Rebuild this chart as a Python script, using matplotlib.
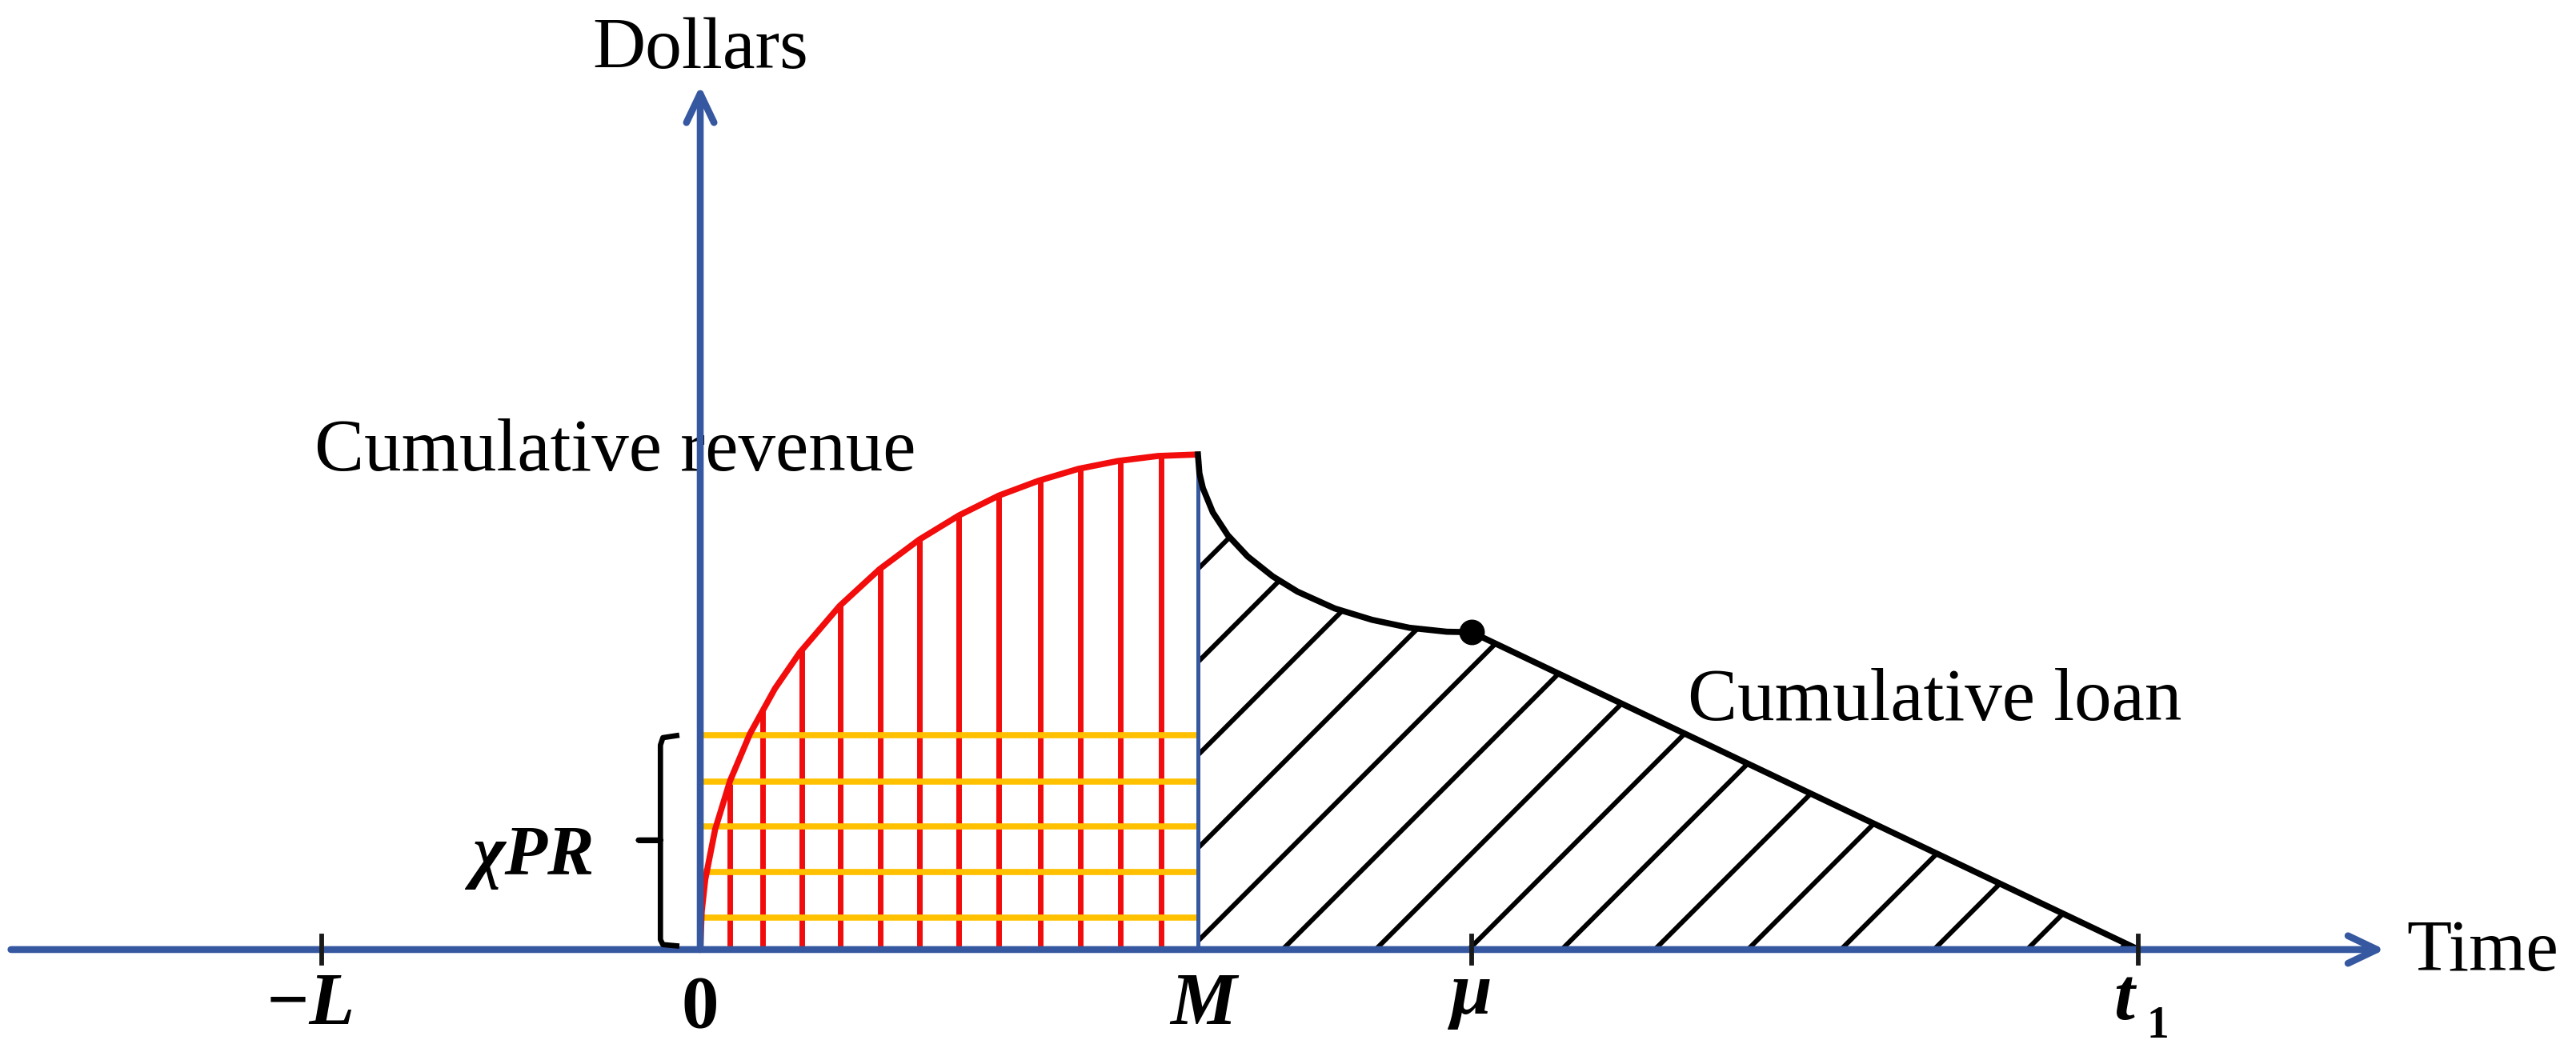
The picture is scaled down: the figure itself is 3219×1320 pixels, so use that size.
import matplotlib
matplotlib.use('Agg')
import matplotlib.pyplot as plt
from matplotlib.patches import Polygon
from matplotlib.collections import LineCollection
import numpy as np

# key points on the time axis
L_pos = -7.6
M_pos = 10.0
mu_pos = 15.5
t1_pos = 28.9

# cumulative revenue (0 -> M)
revenue_t = [0, 0.03, 0.1, 0.3, 0.6, 1.0, 1.5, 2.0, 2.8, 3.6, 4.4, 5.2, 6.0, 6.8, 7.6, 8.4, 9.2, 10.0]
revenue_v = [0, 0.77, 1.41, 2.43, 3.41, 4.36, 5.27, 6.0, 6.94, 7.68, 8.28, 8.77, 9.17, 9.47, 9.71, 9.87, 9.97, 10.0]

# cumulative loan (M -> mu curve, then straight to t1)
loan_t = [10.0, 10.03, 10.1, 10.3, 10.6, 11.0, 11.5, 12.0, 12.75, 13.5, 14.25, 15.0, 15.5, 28.9]
loan_v = [10.0, 9.62, 9.32, 8.83, 8.37, 7.94, 7.54, 7.23, 6.89, 6.66, 6.50, 6.42, 6.41, 0.0]

# red vertical stripes and orange chi*P*R bands
stripe_t = [0.59, 1.25, 2.04, 2.81, 3.62, 4.41, 5.19, 6.0, 6.83, 7.64, 8.44, 9.26]
band_v = [0.65, 1.57, 2.49, 3.39, 4.33]

blue = '#3558A0'
red = '#F20C0C'
gold = '#FFC000'
serif = 'Liberation Serif'

fig = plt.figure(figsize=(32.19, 13.2), dpi=100)
ax = fig.add_axes([0, 0, 1, 1])
ax.set_xlim(-14.07, 37.69)
ax.set_ylim(-2.15, 19.18)
ax.axis('off')

# revenue region: red stripes clipped under the curve
rev_poly = Polygon(list(zip(revenue_t, revenue_v)) + [(M_pos, 0)], closed=True,
                   facecolor='none', edgecolor='none')
ax.add_patch(rev_poly)
stripes = LineCollection([[(t, 0), (t, 12)] for t in stripe_t], colors=red,
                         linewidths=5, zorder=2)
ax.add_collection(stripes)
stripes.set_clip_path(rev_poly)

for v in band_v:
    ax.plot([0, M_pos], [v, v], color=gold, lw=5.5, zorder=3, solid_capstyle='butt')

ax.plot(revenue_t, revenue_v, color=red, lw=5.5, zorder=4, solid_capstyle='butt')

# loan region: diagonal hatch clipped under the loan curve
loan_poly = Polygon([(M_pos, 0)] + list(zip(loan_t, loan_v)), closed=True,
                    facecolor='none', edgecolor='none')
ax.add_patch(loan_poly)
slope = 62.2 / 61.9
hatch = [[(c, 0), (c + 15, 15 * slope)] for c in np.arange(0.48, t1_pos, 1.87)]
hl = LineCollection(hatch, colors='black', linewidths=4.3, zorder=2)
ax.add_collection(hl)
hl.set_clip_path(loan_poly)

ax.plot([M_pos, M_pos], [0, revenue_v[-1]], color=blue, lw=3.6, zorder=3)
ax.plot(loan_t, loan_v, color='black', lw=5.5, zorder=4)
ax.plot([mu_pos], [loan_v[loan_t.index(mu_pos)]], 'o', color='black', ms=22, zorder=6)

# axes with arrows
arrow = dict(arrowstyle='->,head_length=1.3,head_width=0.62', lw=6.2, color=blue,
             shrinkA=0, shrinkB=0, mutation_scale=20)
ax.annotate('', xy=(33.85, 0), xytext=(-13.85, 0), arrowprops=arrow, zorder=5)
ax.annotate('', xy=(0, 17.45), xytext=(0, 0), arrowprops=arrow, zorder=5)

for t in [L_pos, mu_pos, t1_pos]:
    ax.plot([t, t], [-0.27, 0.27], color='#1a1a1a', lw=4.2, zorder=6)

# brace for chi*P*R
bx = -0.8
ax.plot([-0.42, bx + 0.05, bx, bx, -1.24, bx, bx, bx + 0.05, -0.42],
        [band_v[-1], band_v[-1] - 0.05, band_v[-1] - 0.2, 2.21, 2.21, 2.21, 0.2, 0.1, 0.07],
        color='black', lw=4.8, solid_joinstyle='round', solid_capstyle='butt', zorder=6)

# texts
ax.text(0, 17.8, 'Dollars', family=serif, fontsize=66, ha='center', va='baseline')
ax.text(-7.75, 9.68, 'Cumulative revenue', family=serif, fontsize=67, ha='left', va='baseline')
ax.text(19.84, 4.64, 'Cumulative loan', family=serif, fontsize=67, ha='left', va='baseline')
ax.text(34.28, -0.42, 'Time', family=serif, fontsize=66, ha='left', va='baseline')
ax.text(-3.36, 1.52, 'χPR', family=serif, fontsize=63, style='italic', weight='bold',
        ha='center', va='baseline')

tick_kw = dict(family=serif, fontsize=67, weight='bold', va='baseline', ha='center')
ax.text(L_pos - 0.25, -1.5, '−L', style='italic', **tick_kw)
ax.text(0, -1.58, '0', **tick_kw)
ax.text(M_pos + 0.1, -1.5, 'M', style='italic', **tick_kw)
ax.text(mu_pos, -1.3, 'μ', style='italic', **tick_kw)
ax.text(t1_pos - 0.3, -1.4, 't', style='italic', **tick_kw)
ax.text(t1_pos + 0.38, -1.78, '1', family=serif, fontsize=40, weight='bold',
        ha='center', va='baseline')

fig.savefig('out.png', dpi=100, facecolor='white')
